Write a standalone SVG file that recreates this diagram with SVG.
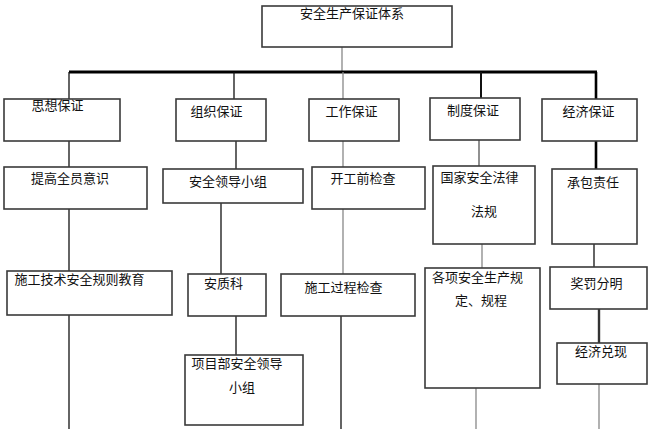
<svg xmlns="http://www.w3.org/2000/svg" width="652" height="429" viewBox="0 0 652 429">
<style>
.box{fill:#fff;stroke:#3a3a3a;stroke-width:1.6}
.t{font-family:"Liberation Serif","Noto Sans CJK SC",serif;font-size:13px;fill:#111;text-anchor:middle}
.c{stroke:#111;stroke-width:1.3;fill:none}
.g{stroke:#888;stroke-width:1.3;fill:none}
.k{stroke:#000;stroke-width:3;fill:none}
</style>
<rect width="652" height="429" fill="#fff"/>
<g id="connectors">
<line class="g" x1="342" y1="47" x2="342" y2="72"/>
<line class="k" x1="69" y1="72" x2="597" y2="72"/>
<line class="c" x1="69" y1="72" x2="69" y2="99"/>
<line class="c" x1="234" y1="72" x2="234" y2="99"/>
<line class="g" x1="343" y1="72" x2="343" y2="99"/>
<line class="c" x1="481" y1="72" x2="481" y2="98" style="stroke-width:2"/>
<line class="k" x1="596" y1="72" x2="596" y2="99" style="stroke-width:2.6"/>
<line class="c" x1="69" y1="141" x2="69" y2="167"/>
<line class="c" x1="236" y1="141" x2="236" y2="169"/>
<line class="g" x1="343" y1="141" x2="343" y2="167"/>
<line class="g" x1="479" y1="140" x2="479" y2="166" style="stroke:#555"/>
<line class="k" x1="596" y1="141" x2="596" y2="169" style="stroke-width:2.6"/>
<line class="c" x1="69" y1="209" x2="69" y2="272"/>
<line class="c" x1="221" y1="203" x2="221" y2="274"/>
<line class="g" x1="343" y1="209" x2="343" y2="274"/>
<line class="g" x1="482" y1="244" x2="482" y2="268"/>
<line class="c" x1="594" y1="244" x2="594" y2="267"/>
<line class="c" x1="69" y1="315" x2="69" y2="429"/>
<line class="c" x1="236" y1="316" x2="236" y2="356"/>
<line class="c" x1="341" y1="316" x2="341" y2="429"/>
<line class="g" x1="476" y1="388" x2="476" y2="429"/>
<line class="c" x1="599" y1="309" x2="599" y2="343" style="stroke-width:2.4;stroke:#333"/>
<line class="g" x1="599" y1="384" x2="599" y2="429"/>
</g>
<g id="n-top"><rect class="box" x="262" y="6" width="190" height="41"/><text class="t" x="352" y="18">安全生产保证体系</text></g>
<g id="n-sixiang"><rect class="box" x="4" y="99" width="116" height="42"/><text class="t" x="57.5" y="110">思想保证</text></g>
<g id="n-zuzhi"><rect class="box" x="176" y="99" width="90" height="42"/><text class="t" x="216.5" y="116">组织保证</text></g>
<g id="n-gongzuo"><rect class="box" x="309" y="99" width="90" height="42"/><text class="t" x="351.5" y="116">工作保证</text></g>
<g id="n-zhidu"><rect class="box" x="430" y="98" width="90" height="42"/><text class="t" x="473" y="115">制度保证</text></g>
<g id="n-jingji"><rect class="box" x="542" y="99" width="95" height="42"/><text class="t" x="588.5" y="116">经济保证</text></g>
<g id="n-tigao"><rect class="box" x="4" y="167" width="143" height="42"/><text class="t" x="70" y="183">提高全员意识</text></g>
<g id="n-anquanlingdao"><rect class="box" x="163" y="169" width="140" height="34"/><text class="t" x="228" y="186">安全领导小组</text></g>
<g id="n-kaigong"><rect class="box" x="312" y="167" width="113" height="42"/><text class="t" x="363" y="183">开工前检查</text></g>
<g id="n-guojia"><rect class="box" x="433" y="166" width="102" height="78"/><text class="t" x="479.5" y="182">国家安全法律</text><text class="t" x="484" y="216">法规</text></g>
<g id="n-chengbao"><rect class="box" x="552" y="169" width="85" height="75"/><text class="t" x="593" y="187">承包责任</text></g>
<g id="n-shigongjishu"><rect class="box" x="7" y="271" width="165" height="44"/><text class="t" x="79.5" y="284">施工技术安全规则教育</text></g>
<g id="n-anzhike"><rect class="box" x="188" y="274" width="78" height="42"/><text class="t" x="223.5" y="288">安质科</text></g>
<g id="n-shigongguocheng"><rect class="box" x="281" y="274" width="134" height="42"/><text class="t" x="343.5" y="292">施工过程检查</text></g>
<g id="n-gexiang"><rect class="box" x="425" y="268" width="115" height="120"/><text class="t" x="477.5" y="282">各项安全生产规</text><text class="t" x="481" y="305">定、规程</text></g>
<g id="n-jiangfa"><rect class="box" x="550" y="267" width="97" height="42"/><text class="t" x="596.5" y="288">奖罚分明</text></g>
<g id="n-xiangmubu"><rect class="box" x="185" y="355" width="118" height="70"/><text class="t" x="237" y="368">项目部安全领导</text><text class="t" x="242" y="392">小组</text></g>
<g id="n-jingjiduixian"><rect class="box" x="557" y="343" width="90" height="41"/><text class="t" x="601" y="356">经济兑现</text></g>
</svg>
